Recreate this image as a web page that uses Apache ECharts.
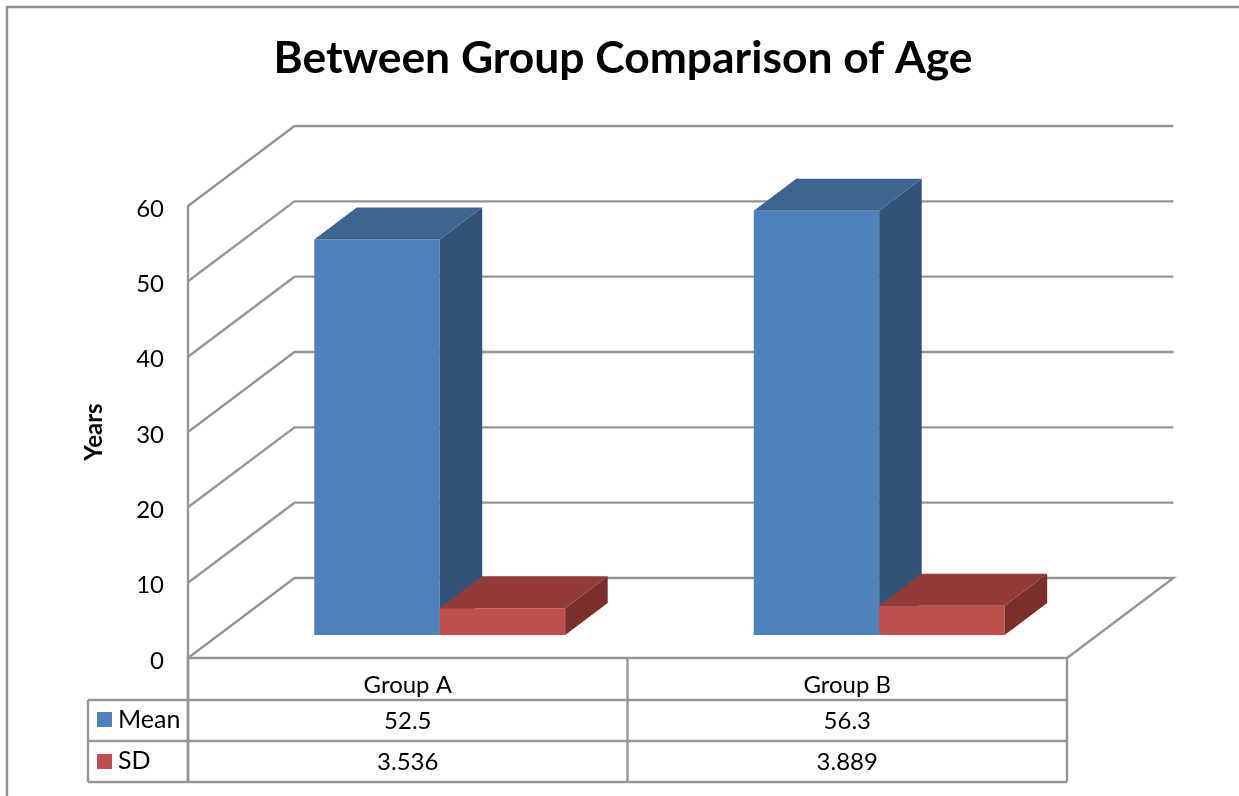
<!DOCTYPE html>
<html>
<head>
<meta charset="utf-8">
<style>html,body{margin:0;padding:0;background:#fff}#c{width:1239px;height:796px}</style>
<script src="https://cdn.jsdelivr.net/npm/echarts@6/dist/echarts.min.js"></script>
</head>
<body>
<div id="c"></div>
<script>
const chartTitle = 'Between Group Comparison of Age';
const categories = ['Group A', 'Group B'];
const meanValues = [52.5, 56.3];
const sdValues = [3.536, 3.889];
const meanLabels = ['52.5', '56.3'];
const sdLabels = ['3.536', '3.889'];
const gridTicks = [0, 10, 20, 30, 40, 50, 60];

const FONT = 'Lato';
const LINE = '#969696';
const BLUE = { front: '#4f81bd', top: '#3e6490', side: '#335278' };
const RED = { front: '#c0504d', top: '#933b39', side: '#7a2f2d' };

// Oblique projection of the chart box: how far the back wall sits from the front plane.
const WALL_DX = 106.5, WALL_DY = -80;
// Where a bar sits inside that depth, and how deep it is.
const BAR_IN_X = 31, BAR_IN_Y = 23, BAR_DX = 42.5, BAR_DY = -32;
const BAR_FRAC = 0.2855, GAP_FRAC = 0.2167;
// Data table row bottoms, measured down from the zero line.
const ROW_BOTTOMS = [42, 83, 124];
const ROW_LABEL_LEFT = 100;

function poly(points, fill) {
  return { type: 'polygon', shape: { points }, style: { fill, stroke: null } };
}
function seg(x1, y1, x2, y2, width) {
  return { type: 'line', shape: { x1, y1, x2, y2 }, style: { stroke: LINE, lineWidth: width || 2.4, fill: null } };
}

function wallRenderer(params, api) {
  const cs = params.coordSys;
  const y = api.coord([0, api.value(1)])[1];
  const xl = cs.x, xr = cs.x + cs.width;
  const pts = [[xl, y], [xl + WALL_DX, y + WALL_DY], [xr + WALL_DX, y + WALL_DY]];
  if (api.value(1) === 0) pts.push([xr, y]);
  return { type: 'polyline', shape: { points: pts }, style: { stroke: LINE, lineWidth: 2.4, fill: null } };
}

// Each series takes its own slot inside the category's cluster.
function barRenderer(colors, slot) {
  return function (params, api) {
    const band = api.size([1, 0])[0];
    const c = api.coord([api.value(0), api.value(1)]);
    const base = api.coord([api.value(0), 0]);
    const w = band * BAR_FRAC;
    const x0 = c[0] - band / 2 + BAR_IN_X + band * GAP_FRAC + w * slot;
    const x1 = x0 + w;
    const top = c[1] - BAR_IN_Y, bot = base[1] - BAR_IN_Y;
    return {
      type: 'group',
      children: [
        poly([[x0, bot], [x1, bot], [x1, top], [x0, top]], colors.front),
        poly([[x0, top], [x1, top], [x1 + BAR_DX, top + BAR_DY], [x0 + BAR_DX, top + BAR_DY]], colors.top),
        poly([[x1, bot], [x1 + BAR_DX, bot + BAR_DY], [x1 + BAR_DX, top + BAR_DY], [x1, top]], colors.side)
      ]
    };
  };
}

function cellText(text, x, y, align, size) {
  return { type: 'text', style: { text, x, y, align: align || 'center', verticalAlign: 'middle', font: (size || 24) + 'px ' + FONT, fill: '#000' } };
}

function tableRenderer(params, api) {
  const cs = params.coordSys;
  const i = api.value(0);
  const band = cs.width / categories.length;
  const y0 = cs.y + cs.height;
  const rows = ROW_BOTTOMS.map(d => y0 + d);
  const xl = cs.x + band * i, xr = xl + band, xm = xl + band / 2;
  const children = [
    seg(xr, y0, xr, rows[2]),
    seg(xl, rows[0], xr, rows[0]),
    seg(xl, rows[1], xr, rows[1]),
    seg(xl, rows[2], xr, rows[2]),
    cellText(meanLabels[i], xm, rows[0] + 21),
    cellText(sdLabels[i], xm, rows[1] + 21)
  ];
  if (i === 0) {
    const left = cs.x - ROW_LABEL_LEFT;
    children.push(
      seg(cs.x, y0, cs.x, rows[2], 2.8),
      seg(left, rows[0], left, rows[2]),
      seg(left, rows[0], cs.x, rows[0]),
      seg(left, rows[1], cs.x, rows[1]),
      seg(left, rows[2], cs.x, rows[2]),
      { type: 'rect', shape: { x: left + 9, y: rows[0] + 12, width: 15, height: 15 }, style: { fill: BLUE.front } },
      { type: 'rect', shape: { x: left + 9, y: rows[1] + 13, width: 15, height: 15 }, style: { fill: RED.front } },
      cellText('Mean', left + 30, rows[0] + 20, 'left', 25),
      cellText('SD', left + 30, rows[1] + 20, 'left', 25)
    );
  }
  return { type: 'group', children };
}

const chart = echarts.init(document.getElementById('c'), null, { renderer: 'canvas' });
chart.setOption({
  animation: false,
  backgroundColor: '#ffffff',
  textStyle: { fontFamily: FONT },
  title: {
    text: chartTitle,
    left: 618,
    top: 32,
    textAlign: 'center',
    textStyle: { fontFamily: FONT, fontSize: 44.4, fontWeight: 'bold', color: '#000' }
  },
  grid: { left: 188, top: 206, width: 879, height: 452, containLabel: false },
  xAxis: {
    type: 'category',
    data: categories,
    axisTick: { show: false },
    axisLine: { lineStyle: { color: LINE, width: 2.4 } },
    axisLabel: { fontFamily: FONT, fontSize: 24, color: '#000', margin: 15 },
    splitLine: { show: false }
  },
  yAxis: {
    type: 'value',
    min: 0,
    max: 60,
    interval: 10,
    name: 'Years',
    nameLocation: 'middle',
    nameGap: 82,
    nameTextStyle: { fontFamily: FONT, fontSize: 24, fontWeight: 'bold', color: '#000' },
    axisLine: { show: true, lineStyle: { color: LINE, width: 2.4 } },
    axisTick: { show: false },
    axisLabel: {
      margin: 24,
      formatter: '{t|{value}}',
      rich: { t: { fontFamily: FONT, fontSize: 24, color: '#000', padding: [6, 0, 0, 0] } }
    },
    splitLine: { show: false }
  },
  series: [
    { type: 'custom', name: 'Walls', z: 1, silent: true, renderItem: wallRenderer,
      data: gridTicks.map(v => [0, v]), encode: { x: 0, y: 1 } },
    { type: 'custom', name: 'Mean', z: 2, renderItem: barRenderer(BLUE, 0),
      data: meanValues.map((v, i) => [i, v]), encode: { x: 0, y: 1 } },
    { type: 'custom', name: 'SD', z: 3, renderItem: barRenderer(RED, 1),
      data: sdValues.map((v, i) => [i, v]), encode: { x: 0, y: 1 } },
    { type: 'custom', name: 'Data table', z: 4, silent: true, renderItem: tableRenderer,
      data: categories.map((c, i) => [i, 0]), encode: { x: 0, y: 1 } }
  ],
  graphic: [
    { type: 'polyline', silent: true, z: 0,
      shape: { points: [[7, 796], [7, 7], [1239, 7]] },
      style: { stroke: '#8f8f8f', lineWidth: 2.4, fill: null } }
  ]
});
</script>
</body>
</html>
